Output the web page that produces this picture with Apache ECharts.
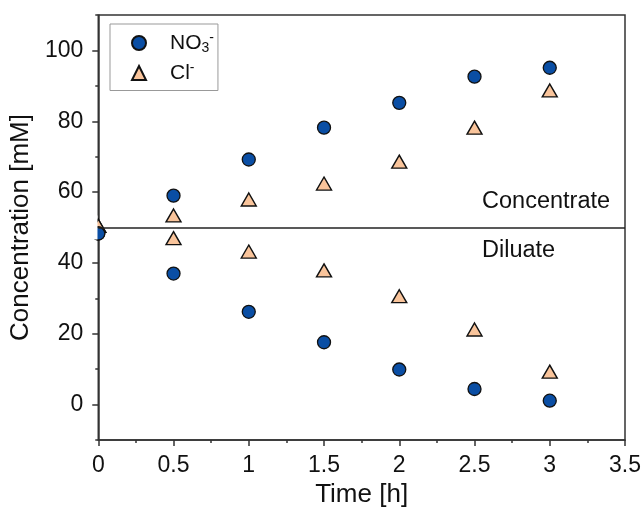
<!DOCTYPE html>
<html>
<head>
<meta charset="utf-8">
<script src="https://cdn.jsdelivr.net/npm/echarts@6/dist/echarts.min.js"></script>
<style>
  html, body { margin: 0; padding: 0; background: #fff; }
  #chart { width: 644px; height: 518px; }
</style>
</head>
<body>
<div id="chart"></div>
<script>
// data
const times = [0, 0.5, 1, 1.5, 2, 2.5, 3];
const no3Concentrate = [48.3, 59.0, 69.2, 78.2, 85.2, 92.6, 95.1];
const no3Diluate = [48.3, 37.0, 26.2, 17.6, 9.9, 4.4, 1.1];
const clConcentrate = [50.5, 53.4, 57.9, 62.4, 68.6, 78.2, 88.7];
const clDiluate = [50.5, 47.0, 43.2, 37.9, 30.6, 21.2, 9.3];
const yTicks = [0, 20, 40, 60, 80, 100];
const lineLevel = 50;

const font = 'Liberation Sans, Arial, sans-serif';
const blue = '#0a4ea4';
const peach = '#f9c49b';

const pairs = (ys) => times.map((t, i) => [t, ys[i]]);

const chart = echarts.init(document.getElementById('chart'));

const no3Style = { color: blue, borderColor: '#111', borderWidth: 1.3, opacity: 1 };
const clStyle = { color: peach, borderColor: '#111', borderWidth: 1.4, opacity: 1 };

const option = {
  animation: false,
  textStyle: { fontFamily: font },
  grid: {
    left: 97, right: 19, top: 15, bottom: 78,
    show: true, borderColor: '#333', borderWidth: 1.5
  },
  legend: {
    orient: 'vertical',
    left: 110, top: 24,
    padding: [7, 4, 7, 21],
    itemGap: 6,
    itemWidth: 14, itemHeight: 14,
    borderColor: '#999', borderWidth: 1,
    data: ['NO3', 'Cl'],
    formatter: function (name) {
      return name === 'NO3' ? '{b|NO}{s|3}{p|-}' : '{b|Cl}{p|-}';
    },
    textStyle: {
      fontFamily: font,
      padding: [0, 0, 0, 19],
      rich: {
        b: { fontSize: 21, color: '#111', fontFamily: font, lineHeight: 24 },
        s: { fontSize: 14, color: '#111', fontFamily: font, verticalAlign: 'bottom', padding: [9, 0, 0, 0] },
        p: { fontSize: 14, color: '#111', fontFamily: font, verticalAlign: 'top', padding: [0, 0, 9, 0] }
      }
    }
  },
  xAxis: [{
    type: 'value',
    min: 0, max: 3.5, interval: 0.5,
    name: 'Time [h]',
    nameLocation: 'middle',
    nameGap: 40,
    nameTextStyle: { fontSize: 26, color: '#111', fontFamily: font },
    axisLine: { onZero: false, lineStyle: { color: '#333', width: 1.5 } },
    axisTick: { inside: false, length: 6, lineStyle: { color: '#333', width: 1.5 } },
    axisLabel: {
      fontSize: 23, color: '#111', margin: 14, fontFamily: font,
      formatter: (v) => String(v)
    },
    splitLine: { show: false }
  }, {
    type: 'value',
    min: 0, max: 3.5, interval: 0.25,
    position: 'bottom',
    axisLine: { show: false, onZero: false },
    axisTick: { inside: false, length: 3, lineStyle: { color: '#333', width: 1.5 } },
    axisLabel: { show: false },
    splitLine: { show: false }
  }],
  yAxis: [{
    type: 'value',
    min: -10, max: 110,
    name: 'Concentration [mM]',
    nameLocation: 'middle',
    nameGap: 56,
    nameTextStyle: { fontSize: 26, color: '#111', fontFamily: font },
    axisLine: { onZero: false, lineStyle: { color: '#333', width: 1.5 } },
    axisTick: { inside: false, length: 6, customValues: yTicks, lineStyle: { color: '#333', width: 1.5 } },
    axisLabel: { fontSize: 23, color: '#111', margin: 15, fontFamily: font, customValues: yTicks },
    splitLine: { show: false }
  }, {
    type: 'value',
    min: -10, max: 110, interval: 10,
    position: 'left',
    axisLine: { show: false, onZero: false },
    axisTick: { inside: false, length: 3, lineStyle: { color: '#333', width: 1.5 } },
    axisLabel: { show: false },
    splitLine: { show: false }
  }],
  series: [{
    name: 'Cl',
    type: 'scatter',
    symbol: 'triangle',
    symbolSize: [15, 13],
    itemStyle: clStyle,
    data: pairs(clConcentrate),
    markLine: {
      silent: true,
      symbol: 'none',
      lineStyle: { color: '#222', width: 1.5, type: 'solid' },
      label: { show: false },
      data: [{ yAxis: lineLevel }]
    },
    markPoint: {
      symbol: 'circle',
      symbolSize: 0,
      label: {
        show: true, position: 'right', distance: 0,
        fontSize: 23.5, color: '#111', fontFamily: font
      },
      data: [
        { coord: [2.55, 57.3], value: 'Concentrate', label: { formatter: 'Concentrate' } },
        { coord: [2.55, 43.6], value: 'Diluate', label: { formatter: 'Diluate' } }
      ]
    }
  }, {
    name: 'Cl',
    type: 'scatter',
    symbol: 'triangle',
    symbolSize: [15, 13],
    itemStyle: clStyle,
    data: pairs(clDiluate)
  }, {
    name: 'NO3',
    type: 'scatter',
    symbol: 'circle',
    symbolSize: 13,
    itemStyle: no3Style,
    data: pairs(no3Concentrate)
  }, {
    name: 'NO3',
    type: 'scatter',
    symbol: 'circle',
    symbolSize: 13,
    itemStyle: no3Style,
    data: pairs(no3Diluate)
  }]
};

chart.setOption(option);

// markers at t = 0 are cut by the y axis in the original plot
const edge = chart.convertToPixel({ xAxisIndex: 0, yAxisIndex: 0 }, [0, lineLevel]);
chart.setOption({
  graphic: [{
    type: 'rect',
    z: 100,
    shape: { x: edge[0] - 10, y: edge[1] - 12, width: 9.2, height: 24 },
    style: { fill: '#fff' }
  }]
});
</script>
</body>
</html>
